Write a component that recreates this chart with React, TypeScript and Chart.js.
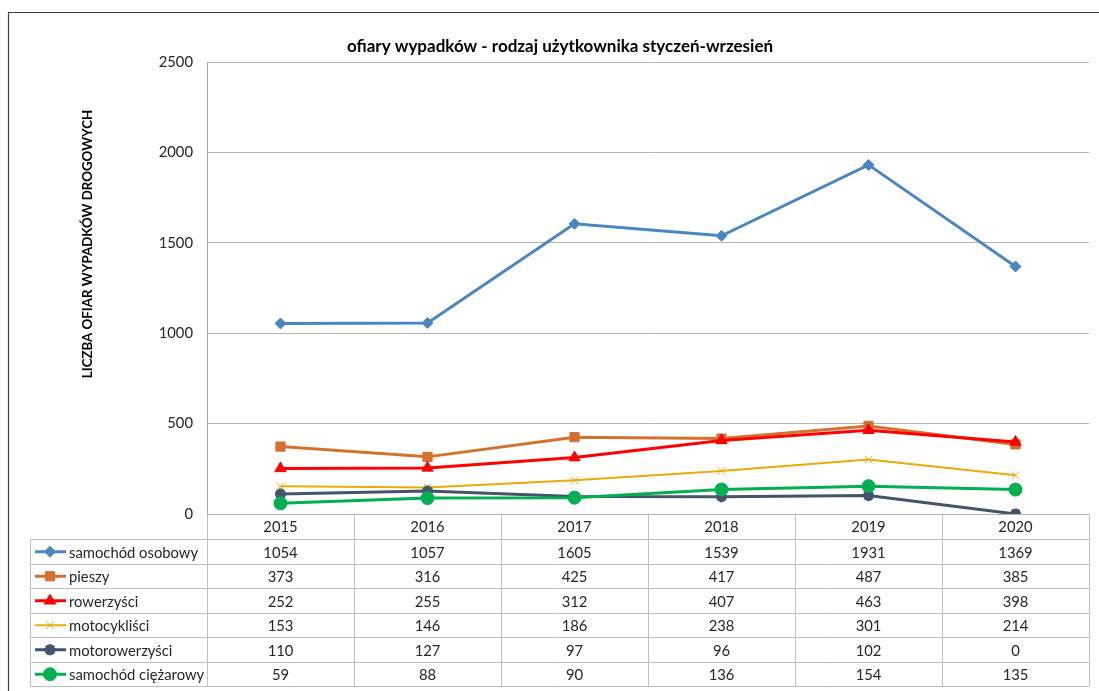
import React, { useEffect, useRef } from "react";
import { Chart, registerables } from "chart.js";
import { drawPoint } from "chart.js/helpers";

Chart.register(...registerables);

const years = ["2015", "2016", "2017", "2018", "2019", "2020"];
const seriesNames = [
  "samochód osobowy",
  "pieszy",
  "rowerzyści",
  "motocykliści",
  "motorowerzyści",
  "samochód ciężarowy",
];
const samochodOsobowy = [1054, 1057, 1605, 1539, 1931, 1369];
const pieszy = [373, 316, 425, 417, 487, 385];
const rowerzysci = [252, 255, 312, 407, 463, 398];
const motocyklisci = [153, 146, 186, 238, 301, 214];
const motorowerzysci = [110, 127, 97, 96, 102, 0];
const samochodCiezarowy = [59, 88, 90, 136, 154, 135];
const seriesValues = [
  samochodOsobowy,
  pieszy,
  rowerzysci,
  motocyklisci,
  motorowerzysci,
  samochodCiezarowy,
];
const yTicks = [0, 500, 1000, 1500, 2000, 2500];

const titleText = "ofiary wypadków - rodzaj użytkownika styczeń-wrzesień";
const yTitleText = "LICZBA OFIAR WYPADKÓW DROGOWYCH";

const colors = ["#4A86C0", "#D3712F", "#FF0000", "#E8AC08", "#44546A", "#00B050"];
const styles = ["rectRot", "rect", "triangle", "crossRot", "star", "circle"];
const radii = [5.5, 6.5, 6.5, 5.5, 5.5, 6.5];
const lineWidths = [3, 3, 3, 2, 3, 3];
const pointBorders = [1, 1, 1, 1, 3.5, 1];

const FONT = "Lato, 'Open Sans', sans-serif";
const TEXT_SIZE = 14.8;

const decorPlugin = {
  id: "decor",
  afterDraw(chart: any) {
    const ctx = chart.ctx as CanvasRenderingContext2D;
    const area = chart.chartArea;
    const x = chart.scales.x;
    const n = years.length;
    const colW = (area.right - area.left) / n;

    ctx.save();
    // outer chart border (top and left edges are inside the view)
    ctx.strokeStyle = "#404040";
    ctx.lineWidth = 1.2;
    ctx.beginPath();
    ctx.moveTo(8.5, 700);
    ctx.lineTo(8.5, 12.5);
    ctx.lineTo(1110, 12.5);
    ctx.stroke();

    // title
    ctx.fillStyle = "#000";
    ctx.font = `bold 17px ${FONT}`;
    ctx.textAlign = "center";
    ctx.textBaseline = "middle";
    ctx.fillText(titleText, 560, 47);

    // y axis title
    ctx.save();
    ctx.translate(88, 244);
    ctx.rotate(-Math.PI / 2);
    ctx.font = `bold 13.3px ${FONT}`;
    ctx.fillText(yTitleText, 0, 0);
    ctx.restore();

    // data table
    const headerTop = area.bottom;
    const headerBottom = headerTop + 25;
    const rowH = 24.5;
    const tableBottom = headerBottom + rowH * seriesNames.length;
    const tableLeft = 30;

    ctx.strokeStyle = "#BFBFBF";
    ctx.lineWidth = 1;
    ctx.beginPath();
    for (let i = 0; i <= n; i++) {
      const px = Math.round(area.left + colW * i) + 0.5;
      ctx.moveTo(px, headerTop);
      ctx.lineTo(px, tableBottom);
    }
    ctx.moveTo(tableLeft + 0.5, headerBottom);
    ctx.lineTo(tableLeft + 0.5, tableBottom);
    for (let r = 0; r <= seriesNames.length; r++) {
      const py = Math.round(headerBottom + rowH * r) + 0.5;
      ctx.moveTo(tableLeft, py);
      ctx.lineTo(area.right, py);
    }
    ctx.stroke();

    ctx.fillStyle = "#262626";
    ctx.font = `${TEXT_SIZE}px ${FONT}`;
    ctx.textAlign = "center";
    ctx.textBaseline = "middle";
    years.forEach((yr, i) => {
      ctx.fillText(yr, x.getPixelForValue(i), (headerTop + headerBottom) / 2 + 1);
    });

    seriesNames.forEach((name, r) => {
      const cy = headerBottom + rowH * r + rowH / 2 + 0.5;
      ctx.strokeStyle = colors[r];
      ctx.lineWidth = lineWidths[r];
      ctx.beginPath();
      ctx.moveTo(35, cy);
      ctx.lineTo(66, cy);
      ctx.stroke();
      ctx.fillStyle = colors[r];
      ctx.strokeStyle = colors[r];
      ctx.lineWidth = pointBorders[r];
      drawPoint(
        ctx,
        { pointStyle: styles[r], radius: radii[r], rotation: 0, borderWidth: pointBorders[r] } as any,
        50,
        cy
      );
      ctx.fillStyle = "#262626";
      ctx.textAlign = "left";
      ctx.fillText(name, 69, cy + 1);
      ctx.textAlign = "center";
      seriesValues[r].forEach((v, i) => {
        ctx.fillText(String(v), x.getPixelForValue(i), cy + 1);
      });
    });
    ctx.restore();
  },
};

export default function App() {
  const ref = useRef<HTMLCanvasElement | null>(null);
  useEffect(() => {
    document.documentElement.style.overflow = "hidden";
    document.body.style.margin = "0";
    document.body.style.overflow = "hidden";
    if (!ref.current) return;
    const chart = new Chart(ref.current, {
      type: "line",
      data: {
        labels: years,
        datasets: seriesNames.map((name, i) => ({
          label: name,
          data: seriesValues[i],
          borderColor: colors[i],
          backgroundColor: colors[i],
          borderWidth: lineWidths[i],
          pointStyle: styles[i] as any,
          pointRadius: radii[i],
          pointBorderWidth: pointBorders[i],
          pointBackgroundColor: colors[i],
          pointBorderColor: colors[i],
          tension: 0,
          fill: false,
          order: seriesNames.length - i,
        })),
      },
      options: {
        responsive: false,
        animation: false,
        layout: { padding: { left: 0, top: 62, right: 10, bottom: 177 } },
        plugins: {
          legend: { display: false },
          title: { display: false },
          tooltip: { enabled: false },
        },
        scales: {
          x: {
            display: false,
            offset: true,
          },
          y: {
            min: 0,
            max: 2500,
            afterFit(scale: any) {
              scale.width = 207;
            },
            afterBuildTicks(scale: any) {
              scale.ticks = yTicks.map((v) => ({ value: v }));
            },
            border: { display: true, color: "#A6A6A6", width: 1 },
            grid: { color: "#B4B4B4", lineWidth: 1, drawTicks: false },
            ticks: {
              padding: 14,
              color: "#262626",
              font: { family: FONT, size: TEXT_SIZE },
              callback: (v: any) => String(v),
            },
          },
        },
      },
      plugins: [decorPlugin],
    });
    return () => chart.destroy();
  }, []);
  return (
    <div style={{ position: "fixed", left: 0, top: 0, width: 1099, height: 691, background: "#fff", overflow: "hidden" }}>
      <canvas ref={ref} width={1099} height={691} style={{ width: 1099, height: 691, display: "block" }} />
    </div>
  );
}
